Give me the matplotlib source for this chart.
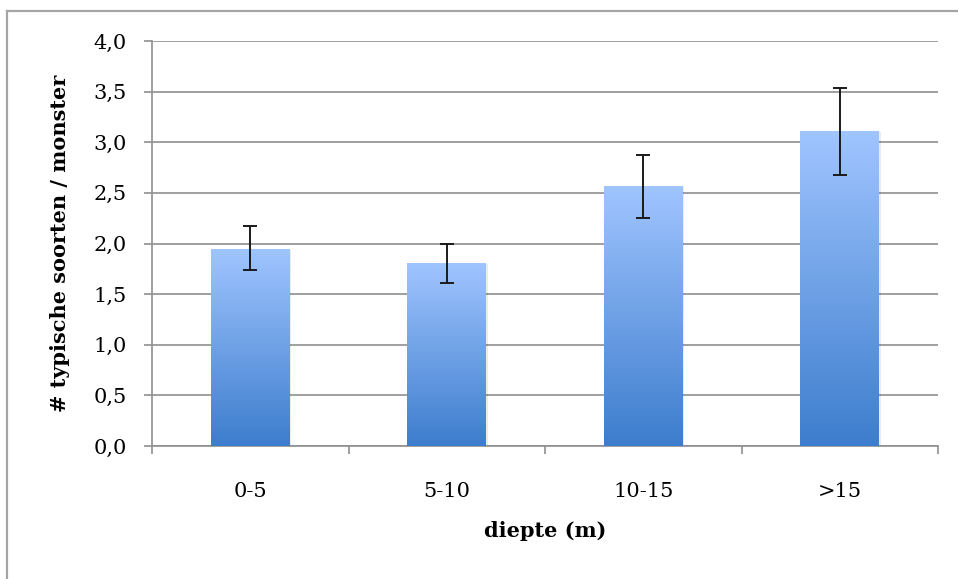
import numpy as np
import matplotlib.pyplot as plt
from matplotlib.lines import Line2D
from matplotlib.colors import LinearSegmentedColormap

# --- data ---
categories = ["0-5", "5-10", "10-15", ">15"]
means = [1.95, 1.81, 2.57, 3.11]
err_low = [0.21, 0.20, 0.32, 0.43]
err_high = [0.22, 0.19, 0.30, 0.43]
yticks = [0.0, 0.5, 1.0, 1.5, 2.0, 2.5, 3.0, 3.5, 4.0]

GRID = "#8f8f8f"
plt.rcParams['font.family'] = ['DejaVu Serif']

W, H = 958, 579
fig = plt.figure(figsize=(W / 100, H / 100), dpi=100)
ax = fig.add_axes([152 / W, 1 - 446 / H, (938 - 152) / W, (446 - 41) / H])

x = np.arange(len(categories))
bars = ax.bar(x, means, width=0.4, color="none", edgecolor="none", zorder=3)

# gradient fill for each bar
cmap = LinearSegmentedColormap.from_list("bluegrad", ["#3d7dcd", "#a0c5ff"])
grad = np.linspace(0, 1, 256).reshape(-1, 1)
for b in bars:
    x0, w, h = b.get_x(), b.get_width(), b.get_height()
    # soft shadow
    ax.add_patch(plt.Rectangle((x0 + 0.008, 0), w, h - 0.01, color="#000000",
                               alpha=0.08, zorder=2, lw=0))
    im = ax.imshow(grad, extent=[x0, x0 + w, 0, h], origin="lower",
                   cmap=cmap, aspect="auto", zorder=3)
    im.set_clip_path(b)

ax.errorbar(x, means, yerr=[err_low, err_high], fmt="none", ecolor="#1a1a1a",
            elinewidth=1.4, capsize=5, capthick=1.4, zorder=4)

ax.set_xlim(-0.5, len(categories) - 0.5)
ax.set_ylim(0, 4.0)
ax.set_yticks(yticks)
ax.set_yticklabels([f"{v:.1f}".replace(".", ",") for v in yticks])
ax.set_xticks(x)
ax.set_xticklabels(categories)
ax.set_xticks(np.arange(len(categories) + 1) - 0.5, minor=True)

ax.yaxis.grid(True, color=GRID, lw=1.2, zorder=0)
ax.set_axisbelow(True)
for s in ["top", "right"]:
    ax.spines[s].set_visible(False)
for s in ["left", "bottom"]:
    ax.spines[s].set_color(GRID)
    ax.spines[s].set_linewidth(1.2)

ax.tick_params(axis="y", length=6, width=1.2, color=GRID, pad=12, labelsize=15)
ax.tick_params(axis="x", which="major", length=0, pad=26, labelsize=15)
ax.tick_params(axis="x", which="minor", length=6, width=1.2, color=GRID)

ax.set_xlabel("diepte (m)", fontsize=15, fontweight="bold", labelpad=14)
ax.set_ylabel("# typische soorten / monster", fontsize=15, fontweight="bold")
ax.yaxis.set_label_coords(-0.104, 0.5)

# chart frame (left and top edges visible)
fig.add_artist(Line2D([7 / W, 7 / W], [0, 1 - 11 / H], transform=fig.transFigure,
                      color="#a5a5a5", lw=1.6))
fig.add_artist(Line2D([7 / W, 1], [1 - 11 / H, 1 - 11 / H], transform=fig.transFigure,
                      color="#a5a5a5", lw=1.6))

fig.savefig("out.png", dpi=100)
